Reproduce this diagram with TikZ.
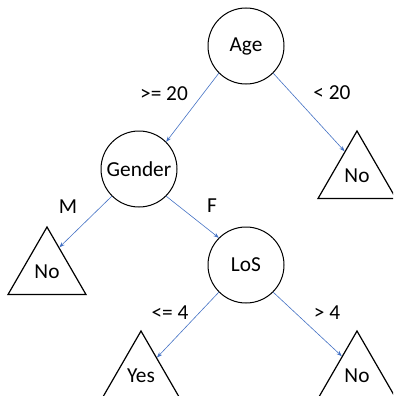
\documentclass[tikz,border=0pt]{standalone}
\usepackage{fontspec}
\setmainfont{Carlito}
\usetikzlibrary{shapes.geometric,arrows.meta,calc}
\definecolor{edgeblue}{RGB}{68,114,196}
\begin{document}
\begin{tikzpicture}[x=0.75pt,y=-0.75pt,
  font=\fontsize{16pt}{19pt}\selectfont,
  decision/.style={circle,draw=black,line width=0.75pt,minimum size=57pt,inner sep=0pt},
  leaf/.style={regular polygon,regular polygon sides=3,draw=black,line width=0.9pt,minimum size=67.5pt,inner sep=0pt},
  edge/.style={draw=edgeblue,line width=0.45pt,-{Stealth[length=4pt,width=3pt]}},
  lbl/.style={inner sep=0pt}]
\clip (0,0) rectangle (393,396);
\node[decision] (age) at (246,46) {Age};
\node[decision] (gender) at (139,169) {Gender};
\node[decision] (los) at (246,265) {LoS};
\node[leaf] (no1) at (357,176) {No};
\node[leaf] (no2) at (47,272) {No};
\node[leaf] (yes) at (141,376) {Yes};
\node[leaf] (no3) at (357,376) {No};
\coordinate (e1) at ($(no1.corner 1)!0.31!(no1.corner 2)$);
\coordinate (e2) at ($(no2.corner 1)!0.31!(no2.corner 3)$);
\coordinate (e3) at ($(yes.corner 1)!0.4!(yes.corner 3)$);
\coordinate (e4) at ($(no3.corner 1)!0.38!(no3.corner 2)$);
\draw[edge] (age.south west) -- (gender.north east);
\draw[edge] (age.south east) -- (e1);
\draw[edge] (gender.south west) -- (e2);
\draw[edge] (gender.south east) -- (los.north west);
\draw[edge] (los.south west) -- (e3);
\draw[edge] (los.south east) -- (e4);
\node[lbl] (l1) at (164,94) {>= 20};
\node[lbl] (l2) at (332,93) {< 20};
\node[lbl] (l3) at (68,207) {M};
\node[lbl] (l4) at (212,206) {F};
\node[lbl] (l5) at (170,313) {<= 4};
\node[lbl] (l6) at (327,313) {> 4};
\end{tikzpicture}
\end{document}
